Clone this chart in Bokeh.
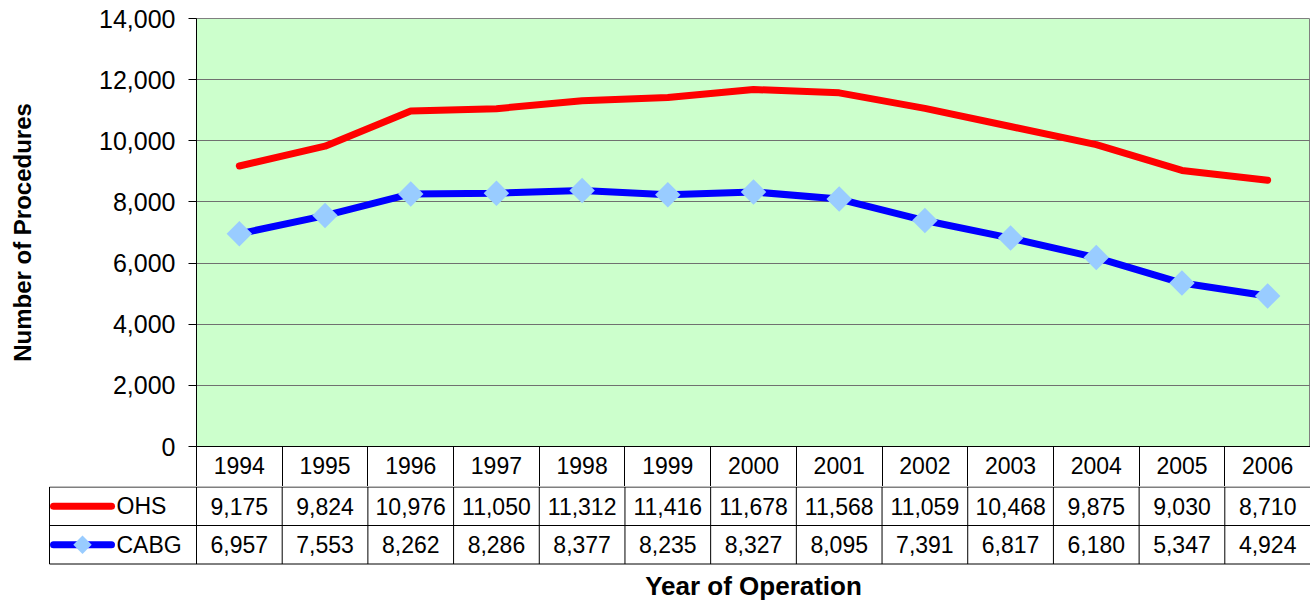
import numpy as np
from bokeh.plotting import figure
from bokeh.models import Range1d, FixedTicker, NumeralTickFormatter
from bokeh.embed import file_html
from bokeh.resources import INLINE
from bokeh.core.properties import value

# ---------------- data ----------------
years = ["1994", "1995", "1996", "1997", "1998", "1999", "2000",
         "2001", "2002", "2003", "2004", "2005", "2006"]
ohs = [9175, 9824, 10976, 11050, 11312, 11416, 11678,
       11568, 11059, 10468, 9875, 9030, 8710]
cabg = [6957, 7553, 8262, 8286, 8377, 8235, 8327,
        8095, 7391, 6817, 6180, 5347, 4924]
series_names = ["OHS", "CABG"]
y_ticks = [0, 2000, 4000, 6000, 8000, 10000, 12000, 14000]
x_title = "Year of Operation"
y_title = "Number of Procedures"

# ---------------- styles ----------------
FONT = "Liberation Sans"
RED = "#FF0000"
BLUE = "#0000FF"
DIAMOND = "#99CCFF"
GREEN_BG = "#CCFFCC"
GRID = "#707070"

W = 1310
N = len(years)
xc = [i + 0.5 for i in range(N)]
FRAME_LEFT = 196            # px of the plot-area's left edge
COL_W = (W - FRAME_LEFT) / N
TABLE_LEFT = 49             # px of the table's left edge
HEADER_H = 40               # height of the year row
ROW_H = 38.5                # height of a table row
P2_H = 116

# ---------------- chart ----------------
p1 = figure(width=W, height=486, x_range=Range1d(0, N), y_range=Range1d(0, 14000),
            output_backend="svg", toolbar_location=None,
            min_border_left=FRAME_LEFT, min_border_right=0,
            min_border_top=18, min_border_bottom=HEADER_H)
p1.background_fill_color = GREEN_BG
p1.border_fill_color = "white"
p1.outline_line_color = "#808080"
p1.xgrid.visible = False
p1.ygrid.ticker = FixedTicker(ticks=y_ticks)
p1.ygrid.grid_line_color = GRID
p1.ygrid.grid_line_width = 1

p1.line(xc, ohs, line_color=RED, line_width=7, line_join="round", line_cap="round")
p1.line(xc, cabg, line_color=BLUE, line_width=7, line_join="round", line_cap="round")
p1.scatter(xc, cabg, marker="square", size=18, angle=np.pi / 4,
           fill_color=DIAMOND, line_color=None)

ya = p1.yaxis[0]
ya.ticker = FixedTicker(ticks=y_ticks)
ya.formatter = NumeralTickFormatter(format="0,0")
ya.major_tick_out = 8
ya.major_tick_in = 0
ya.minor_tick_line_color = None
ya.axis_line_color = "black"
ya.major_tick_line_color = "black"
ya.major_label_text_font = FONT
ya.major_label_text_font_size = "25px"
ya.major_label_text_color = "black"
ya.major_label_standoff = 13
ya.axis_label = y_title
ya.axis_label_text_font = FONT
ya.axis_label_text_font_size = "24px"
ya.axis_label_text_font_style = "bold"
ya.axis_label_text_color = "black"
ya.axis_label_standoff = 60

# year header row: labels at column centres, cell borders as minor ticks
xa = p1.xaxis[0]
xa.ticker = FixedTicker(ticks=xc, minor_ticks=list(range(N + 1)))
xa.major_label_overrides = {x: y for x, y in zip(xc, years)}
xa.major_tick_line_color = None
xa.major_tick_out = 0
xa.major_tick_in = 0
xa.minor_tick_out = HEADER_H
xa.minor_tick_in = 0
xa.minor_tick_line_color = "black"
xa.axis_line_color = "black"
xa.major_label_text_font = FONT
xa.major_label_text_font_size = "23px"
xa.major_label_text_color = "black"
xa.major_label_standoff = -30

# ---------------- data table + x title ----------------
x_left = -(FRAME_LEFT - TABLE_LEFT) / COL_W
x_start = -(FRAME_LEFT - TABLE_LEFT + 1) / COL_W
y_top = 2 + 0.5 / ROW_H
y_bot = y_top - P2_H / ROW_H
p2 = figure(width=W, height=P2_H, x_range=Range1d(x_start, N), y_range=Range1d(y_bot, y_top),
            output_backend="svg", toolbar_location=None,
            x_axis_location=None, y_axis_location=None,
            min_border_left=TABLE_LEFT - 1, min_border_right=0,
            min_border_top=0, min_border_bottom=0)
p2.background_fill_color = "white"
p2.border_fill_color = "white"
p2.outline_line_color = None
p2.grid.visible = False

# cell borders
vx = [x_left] + list(range(N))
p2.segment(x0=vx, y0=[0] * len(vx), x1=vx, y1=[2] * len(vx),
           line_color="black", line_width=1)
p2.segment(x0=[x_left] * 3, y0=[0, 1, 2], x1=[N] * 3, y1=[0, 1, 2],
           line_color="black", line_width=1)

# values
row_y = [1.5, 0.5]
for vals, ry in zip([ohs, cabg], row_y):
    p2.text(x=xc, y=[ry] * N, text=[f"{v:,}" for v in vals],
            text_align="center", text_baseline="middle",
            text_font=value(FONT), text_font_size="23px", text_color="black")

# legend keys
def px_to_x(px):
    return (px - FRAME_LEFT) / COL_W

lk0, lk1, lkm, ltx = px_to_x(53), px_to_x(111), px_to_x(82), px_to_x(116)
p2.line([lk0, lk1], [row_y[0], row_y[0]], line_color=RED, line_width=7, line_cap="round")
p2.line([lk0, lk1], [row_y[1], row_y[1]], line_color=BLUE, line_width=7, line_cap="round")
p2.scatter([lkm], [row_y[1]], marker="square", size=13, angle=np.pi / 4,
           fill_color=DIAMOND, line_color=None)
p2.text(x=[ltx, ltx], y=row_y, text=series_names, text_align="left",
        text_baseline="middle", text_font=value(FONT), text_font_size="23px",
        text_color="black")

# x-axis title, centred under the year columns
p2.text(x=[N / 2], y=[y_top - 99 / ROW_H], text=[x_title], text_align="center",
        text_baseline="middle", text_font=value(FONT), text_font_size="26px",
        text_font_style="bold", text_color="black")

# two independent roots stacked on the page (no frame alignment between them)
open("out.html", "w").write(file_html([p1, p2], INLINE))
